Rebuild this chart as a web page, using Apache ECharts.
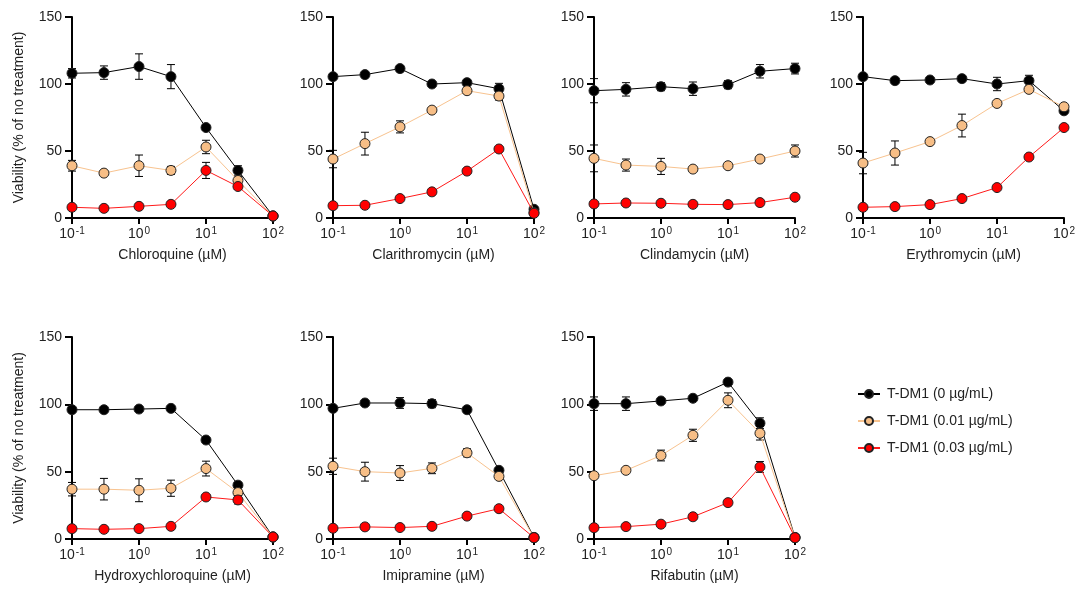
<!DOCTYPE html>
<html>
<head>
<meta charset="utf-8">
<script src="https://cdn.jsdelivr.net/npm/echarts@6/dist/echarts.min.js"></script>
<style>
  html, body { margin: 0; padding: 0; background: #fff; }
  #chart { width: 1080px; height: 597px; }
</style>
</head>
<body>
<div id="chart"></div>
<script>
// doses in µM (log x axis)
const doses = [0.1, 0.3, 1, 3, 10, 30, 100];
const drugs = ['Chloroquine', 'Clarithromycin', 'Clindamycin', 'Erythromycin',
               'Hydroxychloroquine', 'Imipramine', 'Rifabutin'];
const groups = ['T-DM1 (0 µg/mL)', 'T-DM1 (0.01 µg/mL)', 'T-DM1 (0.03 µg/mL)'];
const yTicks = [0, 50, 100, 150];

// viability (% of no treatment), rows = groups, cols = doses
const chloroquine = [
  [108, 108.5, 113, 105.5, 67.5, 35.5, 1.5],
  [39, 33.5, 39, 35.5, 53, 28, 1.5],
  [8, 7.2, 8.7, 10.2, 35.5, 23.5, 1.5]
];
const chloroquineErr = [
  [3.5, 5, 9.5, 9, 2, 3.5, 0],
  [4, 1, 8, 3, 5, 3, 0],
  [0, 0, 0, 0, 6, 2, 0]
];
const clarithromycin = [
  [105.5, 107, 111.5, 100, 101, 96.5, 6.5],
  [44, 55.5, 68, 80.5, 95, 91, 4],
  [9.2, 9.5, 14.5, 19.5, 35, 51.5, 3.5]
];
const clarithromycinErr = [
  [0, 0, 2, 0, 0, 4, 2],
  [6.5, 8.5, 4.5, 0, 0, 3, 0],
  [0, 0, 0, 0, 0, 0, 0]
];
const clindamycin = [
  [95, 96, 98, 96.5, 99.5, 109.5, 111.5],
  [44.5, 39.5, 38.5, 36.5, 39, 44, 50],
  [10.5, 11.2, 11, 10.2, 10, 11.5, 15.5]
];
const clindamycinErr = [
  [9, 5, 3, 5, 3, 5, 4],
  [10, 4.5, 6, 0, 0, 0, 4.5],
  [0, 0, 0, 0, 0, 0, 0]
];
const erythromycin = [
  [105.5, 102.5, 103, 104, 100, 102.5, 80],
  [41, 48.5, 57, 69, 85.5, 96, 83],
  [8, 8.5, 10, 14.5, 22.7, 45.5, 67.5]
];
const erythromycinErr = [
  [0, 0, 0, 0, 5, 4, 2],
  [8, 9, 0, 8.5, 0, 2, 0],
  [0, 0, 0, 0, 0, 0, 0]
];
const hydroxychloroquine = [
  [96, 96, 96.5, 97, 73.5, 40, 1.5],
  [37, 37, 36.2, 37.7, 52.3, 34.5, 1.5],
  [7.7, 7.2, 7.7, 9.4, 31.2, 29, 1.5]
];
const hydroxychloroquineErr = [
  [0, 0, 0, 0, 0, 0, 0],
  [5, 8, 8.5, 6, 5.5, 0, 0],
  [0, 0, 0, 0, 0, 3, 0]
];
const imipramine = [
  [97, 101, 101, 100.5, 96, 51, 1.2],
  [54, 50, 49, 52.5, 64, 46.5, 1],
  [8, 9, 8.5, 9.4, 17, 22.5, 1]
];
const imipramineErr = [
  [0, 0, 4, 3, 0, 0, 0],
  [6, 7, 5.5, 4, 3, 0, 0],
  [0, 0, 0, 0, 0, 0, 0]
];
const rifabutin = [
  [100.5, 100.5, 102.5, 104.5, 116.5, 86, 1.2],
  [47, 51, 62, 77, 103, 78.5, 1],
  [8.4, 9.2, 11, 16.5, 27, 53.5, 1]
];
const rifabutinErr = [
  [5, 5, 0, 0, 0, 4, 0],
  [0, 0, 4, 4.5, 5.5, 5, 0],
  [0, 0, 0, 0, 0, 4, 0]
];

const means = [chloroquine, clarithromycin, clindamycin, erythromycin,
               hydroxychloroquine, imipramine, rifabutin];
const errs = [chloroquineErr, clarithromycinErr, clindamycinErr, erythromycinErr,
              hydroxychloroquineErr, imipramineErr, rifabutinErr];

const lineColors = ['#000000', '#F8C38F', '#FF1A1A'];
const fillColors = ['#000000', '#F7BE86', '#FF0000'];

const FONT = "'Liberation Sans', Arial, sans-serif";
const colLeft = [72, 333, 594, 863];
const rowTop = [17, 337];
const rowHeight = [201, 202];

function renderErr(params, api) {
  const x = api.value(0);
  const m = api.value(1);
  const e = api.value(2);
  if (!e) return null;
  const top = api.coord([x, m + e]);
  const bot = api.coord([x, m - e]);
  const half = 4;
  const st = { stroke: '#000', lineWidth: 1 };
  return {
    type: 'group',
    children: [
      { type: 'line', shape: { x1: top[0], y1: top[1], x2: bot[0], y2: bot[1] }, style: st },
      { type: 'line', shape: { x1: top[0] - half, y1: top[1], x2: top[0] + half, y2: top[1] }, style: st },
      { type: 'line', shape: { x1: bot[0] - half, y1: bot[1], x2: bot[0] + half, y2: bot[1] }, style: st }
    ]
  };
}

const grid = [], xAxis = [], yAxis = [], series = [];

drugs.forEach((drug, i) => {
  const row = i < 4 ? 0 : 1;
  grid.push({ left: colLeft[i % 4], top: rowTop[row], width: 201, height: rowHeight[row] });
  xAxis.push({
    gridIndex: i,
    type: 'log',
    logBase: 10,
    min: 0.1,
    max: 100,
    name: drug + ' (µM)',
    nameLocation: 'middle',
    nameGap: 30,
    nameTextStyle: { fontFamily: FONT, fontSize: 14, color: '#222' },
    axisLine: { lineStyle: { color: '#000', width: 2 } },
    axisTick: { length: 6, lineStyle: { color: '#000', width: 2 } },
    splitLine: { show: false },
    minorTick: { show: false },
    axisLabel: {
      margin: 8,
      fontFamily: FONT,
      fontSize: 14,
      color: '#222',
      formatter: v => '10{s|' + Math.round(Math.log10(v)) + '}',
      rich: {
        s: { fontSize: 10, fontFamily: FONT, color: '#222', verticalAlign: 'top', padding: [0, 0, 6, 1] }
      }
    }
  });
  yAxis.push({
    gridIndex: i,
    type: 'value',
    min: yTicks[0],
    max: yTicks[yTicks.length - 1],
    interval: 50,
    name: i % 4 === 0 ? 'Viability (% of no treatment)' : '',
    nameLocation: 'middle',
    nameGap: 46,
    nameTextStyle: { fontFamily: FONT, fontSize: 14, color: '#222' },
    axisLine: { show: true, lineStyle: { color: '#000', width: 2 } },
    axisTick: { show: true, length: 7, lineStyle: { color: '#000', width: 2 } },
    splitLine: { show: false },
    axisLabel: { margin: 10, fontFamily: FONT, fontSize: 14, color: '#222' }
  });
  groups.forEach((g, k) => {
    const pts = doses.map((d, j) => [d, means[i][k][j], errs[i][k][j]]);
    series.push({
      type: 'custom',
      xAxisIndex: i,
      yAxisIndex: i,
      renderItem: renderErr,
      encode: { x: 0, y: 1 },
      data: pts,
      silent: true,
      z: 2 + k * 2
    });
    series.push({
      type: 'line',
      name: g,
      xAxisIndex: i,
      yAxisIndex: i,
      data: pts.map(p => [p[0], p[1]]),
      symbol: 'circle',
      symbolSize: 10,
      clip: false,
      lineStyle: { color: lineColors[k], width: 1 },
      itemStyle: { color: fillColors[k], borderColor: '#222', borderWidth: 1 },
      z: 3 + k * 2
    });
  });
});

const chart = echarts.init(document.getElementById('chart'));
chart.setOption({
  animation: false,
  backgroundColor: '#fff',
  grid: grid,
  xAxis: xAxis,
  yAxis: yAxis,
  legend: {
    data: groups,
    orient: 'vertical',
    left: 852,
    top: 382,
    itemWidth: 22,
    itemHeight: 10,
    itemGap: 13,
    textStyle: { fontFamily: FONT, fontSize: 14, color: '#222', padding: [0, 0, 0, 2] }
  },
  series: series
});
</script>
</body>
</html>
